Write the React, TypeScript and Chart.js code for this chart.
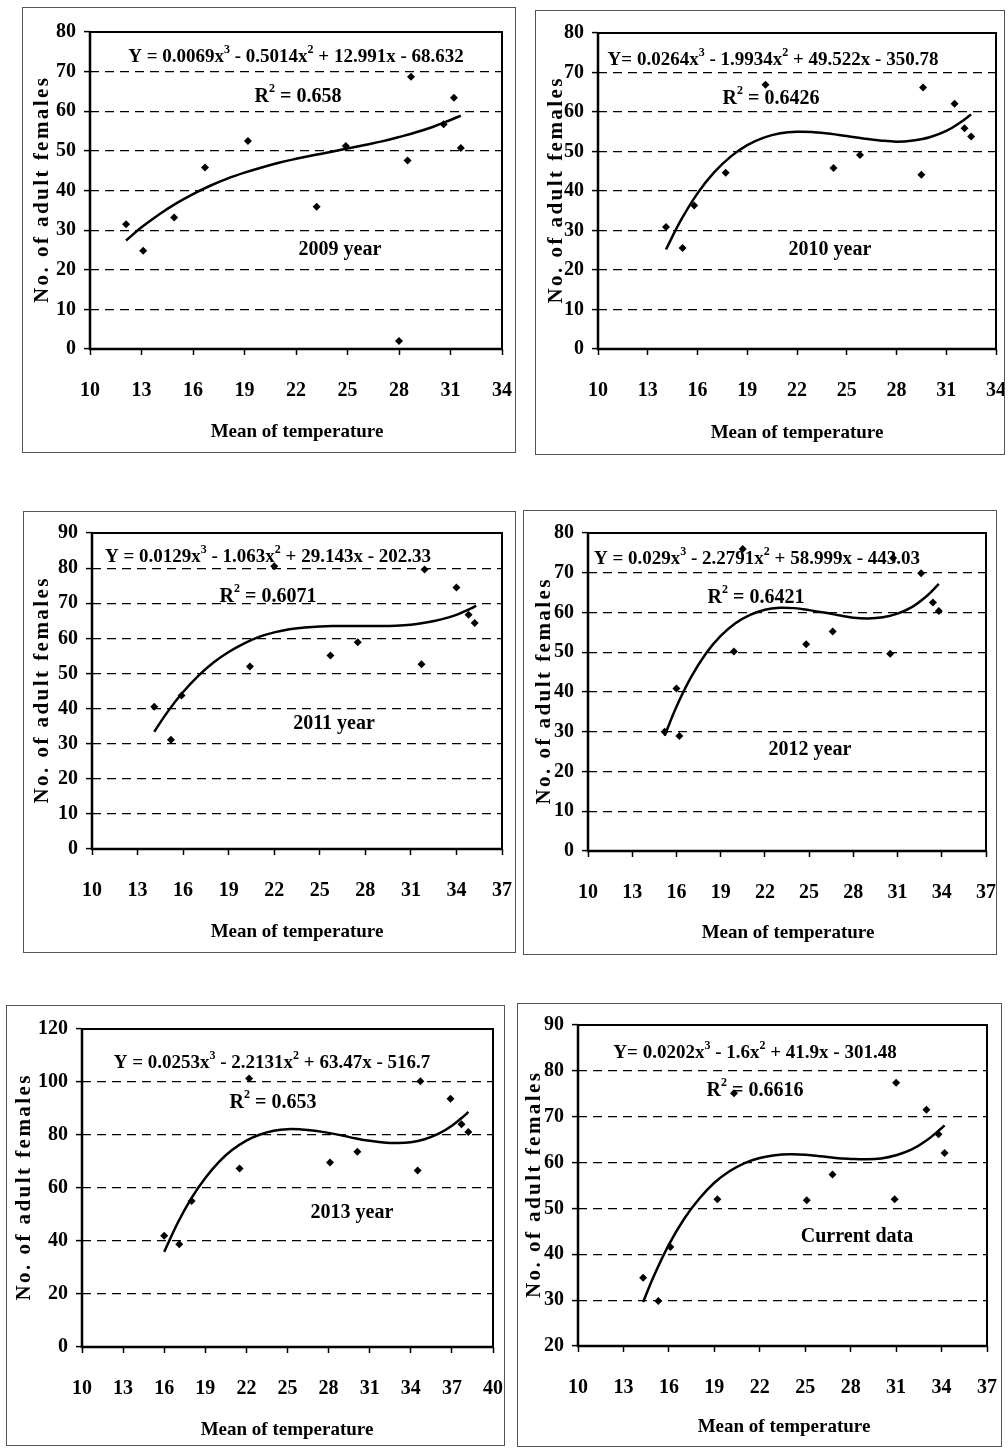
import React, { useEffect, useRef } from "react";
import { Chart, registerables } from "chart.js";
Chart.register(...registerables);

const FONT = '"Liberation Serif", "Times New Roman", serif';

// ---------- 2009 ----------
const temp2009 = [12.1, 13.1, 14.9, 16.7, 19.2, 23.2, 24.9, 28.7, 28.5, 30.6, 31.2, 31.6, 28.0];
const females2009 = [31.5, 24.8, 33.2, 45.8, 52.5, 35.9, 51.2, 68.7, 47.6, 56.7, 63.4, 50.7, 2.0];
const trendTemp2009 = [12.1, 13, 14, 15, 16, 17, 18, 19, 20, 21, 22, 23, 24, 25, 26, 27, 28, 29, 30, 31, 31.6];
const trendFemales2009 = [27.4, 30.7, 33.9, 36.7, 39.1, 41.2, 43.0, 44.5, 45.8, 47.0, 48.0, 48.9, 49.7, 50.6, 51.5, 52.4, 53.5, 54.7, 56.1, 57.8, 58.9];
const xTicks2009 = [10, 13, 16, 19, 22, 25, 28, 31, 34];
const yTicks2009 = [0, 10, 20, 30, 40, 50, 60, 70, 80];

// ---------- 2010 ----------
const temp2010 = [14.1, 15.1, 15.8, 17.7, 20.1, 24.2, 25.8, 29.5, 29.6, 31.5, 32.1, 32.5];
const females2010 = [30.9, 25.6, 36.3, 44.6, 66.9, 45.8, 49.1, 44.1, 66.2, 62.1, 55.9, 53.8];
const trendTemp2010 = [14.1, 15, 16, 17, 18, 19, 20, 21, 22, 23, 24, 25, 26, 27, 28, 29, 30, 31, 32, 32.5];
const trendFemales2010 = [25.2, 32.6, 39.4, 44.7, 48.7, 51.6, 53.5, 54.6, 55.0, 54.9, 54.5, 53.9, 53.3, 52.8, 52.5, 52.8, 53.6, 55.2, 57.8, 59.4];
const xTicks2010 = [10, 13, 16, 19, 22, 25, 28, 31, 34];
const yTicks2010 = [0, 10, 20, 30, 40, 50, 60, 70, 80];

// ---------- 2011 ----------
const temp2011 = [14.1, 15.2, 15.9, 20.4, 22.0, 25.7, 27.5, 31.7, 31.9, 34.0, 34.8, 35.2];
const females2011 = [40.5, 31.1, 43.7, 52.0, 80.5, 55.1, 58.9, 52.6, 79.6, 74.5, 66.7, 64.4];
const trendTemp2011 = [14.1, 15, 16, 17, 18, 19, 20, 21, 22, 23, 24, 25, 26, 27, 28, 29, 30, 31, 32, 33, 34, 35, 35.3];
const trendFemales2011 = [33.4, 39.2, 44.7, 49.3, 53.1, 56.1, 58.5, 60.4, 61.7, 62.6, 63.1, 63.4, 63.5, 63.5, 63.5, 63.5, 63.6, 63.9, 64.5, 65.4, 66.7, 68.6, 69.3];
const xTicks2011 = [10, 13, 16, 19, 22, 25, 28, 31, 34, 37];
const yTicks2011 = [0, 10, 20, 30, 40, 50, 60, 70, 80, 90];

// ---------- 2012 ----------
const temp2012 = [15.2, 16.0, 16.2, 19.9, 24.8, 26.6, 30.5, 32.6, 33.4, 33.8, 20.5, 30.7];
const females2012 = [30.0, 40.9, 28.9, 50.2, 52.0, 55.2, 49.6, 69.9, 62.5, 60.4, 76.0, 73.7];
const trendTemp2012 = [15.2, 16, 17, 18, 19, 20, 21, 22, 23, 24, 25, 26, 27, 28, 29, 30, 31, 32, 33, 33.8];
const trendFemales2012 = [29.0, 36.3, 43.8, 49.7, 54.1, 57.3, 59.4, 60.7, 61.2, 61.1, 60.6, 60.0, 59.3, 58.7, 58.5, 58.8, 59.7, 61.4, 64.2, 67.2];
const xTicks2012 = [10, 13, 16, 19, 22, 25, 28, 31, 34, 37];
const yTicks2012 = [0, 10, 20, 30, 40, 50, 60, 70, 80];

// ---------- 2013 ----------
const temp2013 = [16.0, 17.1, 18.0, 21.5, 22.2, 28.1, 30.1, 34.5, 34.7, 36.9, 37.7, 38.2];
const females2013 = [42.0, 38.8, 55.1, 67.4, 101.3, 69.6, 73.7, 66.6, 100.3, 93.7, 84.1, 81.1];
const trendTemp2013 = [16, 17, 18, 19, 20, 21, 22, 23, 24, 25, 26, 27, 28, 29, 30, 31, 32, 33, 34, 35, 36, 37, 38, 38.2];
const trendFemales2013 = [35.9, 47.0, 56.3, 63.8, 69.9, 74.5, 77.9, 80.2, 81.6, 82.2, 82.1, 81.6, 80.8, 79.8, 78.7, 77.8, 77.2, 77.0, 77.3, 78.4, 80.4, 83.5, 87.7, 88.7];
const xTicks2013 = [10, 13, 16, 19, 22, 25, 28, 31, 34, 37, 40];
const yTicks2013 = [0, 20, 40, 60, 80, 100, 120];

// ---------- Current data ----------
const tempCurrent = [14.3, 15.3, 16.1, 19.2, 25.1, 26.8, 30.9, 31.0, 33.0, 33.8, 34.2, 20.3];
const femalesCurrent = [34.9, 29.8, 41.6, 52.0, 51.8, 57.4, 52.0, 77.4, 71.5, 66.2, 62.1, 75.1];
const trendTempCurrent = [14.3, 15, 16, 17, 18, 19, 20, 21, 22, 23, 24, 25, 26, 27, 28, 29, 30, 31, 32, 33, 34, 34.2];
const trendFemalesCurrent = [29.6, 35.2, 42.1, 47.7, 52.1, 55.6, 58.1, 59.9, 61.0, 61.6, 61.8, 61.7, 61.4, 61.0, 60.8, 60.7, 60.9, 61.6, 62.8, 64.8, 67.5, 68.1];
const xTicksCurrent = [10, 13, 16, 19, 22, 25, 28, 31, 34, 37];
const yTicksCurrent = [20, 30, 40, 50, 60, 70, 80, 90];

// ---------- texts ----------
type Seg = [string, boolean];
const eq2009: Seg[] = [["Y = 0.0069x", false], ["3", true], [" - 0.5014x", false], ["2", true], [" + 12.991x - 68.632", false]];
const eq2010: Seg[] = [["Y= 0.0264x", false], ["3", true], [" - 1.9934x", false], ["2", true], [" + 49.522x - 350.78", false]];
const eq2011: Seg[] = [["Y = 0.0129x", false], ["3", true], [" - 1.063x", false], ["2", true], [" + 29.143x - 202.33", false]];
const eq2012: Seg[] = [["Y = 0.029x", false], ["3", true], [" - 2.2791x", false], ["2", true], [" + 58.999x - 443.03", false]];
const eq2013: Seg[] = [["Y = 0.0253x", false], ["3", true], [" - 2.2131x", false], ["2", true], [" + 63.47x - 516.7", false]];
const eqCurrent: Seg[] = [["Y= 0.0202x", false], ["3", true], [" - 1.6x", false], ["2", true], [" + 41.9x - 301.48", false]];
const r2Values = ["0.658", "0.6426", "0.6071", "0.6421", "0.653", "0.6616"];
const panelLabels = ["2009 year", "2010 year", "2011 year", "2012 year", "2013 year", "Current data"];
const X_TITLE = "Mean of temperature";
const Y_TITLE = "No. of adult females";

interface PanelSpec {
  box: number[];
  plot: number[];
  xTicks: number[];
  yTicks: number[];
  temps: number[];
  counts: number[];
  trendX: number[];
  trendY: number[];
  eq: Seg[];
  eqAt: number[];
  r2: string;
  r2At: number[];
  label: string;
  labelAt: number[];
  yTitleX: number;
  xTitleAt: number[];
}

const panels: PanelSpec[] = [
  { box: [22, 7, 516, 453], plot: [90, 32, 502, 349], xTicks: xTicks2009, yTicks: yTicks2009, temps: temp2009, counts: females2009, trendX: trendTemp2009, trendY: trendFemales2009, eq: eq2009, eqAt: [296, 57], r2: r2Values[0], r2At: [298, 97], label: panelLabels[0], labelAt: [340, 250], yTitleX: 43, xTitleAt: [297, 432] },
  { box: [535, 10, 1005, 455], plot: [598, 33, 996, 349], xTicks: xTicks2010, yTicks: yTicks2010, temps: temp2010, counts: females2010, trendX: trendTemp2010, trendY: trendFemales2010, eq: eq2010, eqAt: [773, 60], r2: r2Values[1], r2At: [771, 99], label: panelLabels[1], labelAt: [830, 250], yTitleX: 557, xTitleAt: [797, 433] },
  { box: [23, 511, 516, 953], plot: [92, 533, 502, 849], xTicks: xTicks2011, yTicks: yTicks2011, temps: temp2011, counts: females2011, trendX: trendTemp2011, trendY: trendFemales2011, eq: eq2011, eqAt: [268, 557], r2: r2Values[2], r2At: [268, 597], label: panelLabels[2], labelAt: [334, 724], yTitleX: 43, xTitleAt: [297, 932] },
  { box: [523, 510, 997, 955], plot: [588, 533, 986, 851], xTicks: xTicks2012, yTicks: yTicks2012, temps: temp2012, counts: females2012, trendX: trendTemp2012, trendY: trendFemales2012, eq: eq2012, eqAt: [757, 559], r2: r2Values[3], r2At: [756, 598], label: panelLabels[3], labelAt: [810, 750], yTitleX: 545, xTitleAt: [788, 933] },
  { box: [6, 1005, 505, 1446], plot: [82, 1029, 493, 1347], xTicks: xTicks2013, yTicks: yTicks2013, temps: temp2013, counts: females2013, trendX: trendTemp2013, trendY: trendFemales2013, eq: eq2013, eqAt: [272, 1063], r2: r2Values[4], r2At: [273, 1103], label: panelLabels[4], labelAt: [352, 1213], yTitleX: 25, xTitleAt: [287, 1430] },
  { box: [517, 1003, 1002, 1447], plot: [578, 1025, 987, 1346], xTicks: xTicksCurrent, yTicks: yTicksCurrent, temps: tempCurrent, counts: femalesCurrent, trendX: trendTempCurrent, trendY: trendFemalesCurrent, eq: eqCurrent, eqAt: [755, 1053], r2: r2Values[5], r2At: [755, 1091], label: panelLabels[5], labelAt: [857, 1237], yTitleX: 535, xTitleAt: [784, 1427] },
];

const SIZE = 19;

function drawSegs(ctx: CanvasRenderingContext2D, segs: Seg[], cx: number, cy: number, size: number) {
  const supSize = Math.round(size * 0.62);
  let total = 0;
  const widths = segs.map(([t, sup]) => {
    ctx.font = `bold ${sup ? supSize : size}px ${FONT}`;
    const w = ctx.measureText(t).width;
    total += w;
    return w;
  });
  let x = cx - total / 2;
  ctx.textAlign = "left";
  ctx.textBaseline = "middle";
  ctx.fillStyle = "#000";
  segs.forEach(([t, sup], i) => {
    ctx.font = `bold ${sup ? supSize : size}px ${FONT}`;
    ctx.fillText(t, x, sup ? cy - size * 0.38 : cy);
    x += widths[i];
  });
}

function Panel({ spec }: { spec: PanelSpec }) {
  const ref = useRef<HTMLCanvasElement>(null);
  const [bl, bt, br, bb] = spec.box;
  const W = br - bl - 2;
  const H = bb - bt - 2;
  const ox = bl + 1;
  const oy = bt + 1;

  useEffect(() => {
    const canvas = ref.current;
    if (!canvas) return;
    const [pl, pt, pr, pb] = spec.plot;
    const xMin = spec.xTicks[0];
    const xMax = spec.xTicks[spec.xTicks.length - 1];
    const yMin = spec.yTicks[0];
    const yMax = spec.yTicks[spec.yTicks.length - 1];
    const tickFont = { family: FONT, size: SIZE + 1, weight: "bold" as const };

    const annot = {
      id: "annot" + spec.label.replace(/\s/g, ""),
      beforeDatasetsDraw(chart: any) {
        const ctx = chart.ctx as CanvasRenderingContext2D;
        ctx.save();
        drawSegs(ctx, spec.eq, spec.eqAt[0] - ox, spec.eqAt[1] - oy, SIZE);
        drawSegs(ctx, [["R", false], ["2", true], [" = " + spec.r2, false]], spec.r2At[0] - ox, spec.r2At[1] - oy, SIZE + 1);
        drawSegs(ctx, [[spec.label, false]], spec.labelAt[0] - ox, spec.labelAt[1] - oy, SIZE + 1);
        ctx.restore();
      },
      afterDatasetsDraw(chart: any) {
        const ctx = chart.ctx as CanvasRenderingContext2D;
        const a = chart.chartArea;
        ctx.save();
        ctx.strokeStyle = "#000";
        ctx.lineWidth = 2;
        ctx.strokeRect(a.left, a.top, a.right - a.left, a.bottom - a.top);
        ctx.lineWidth = 2.5;
        ctx.beginPath();
        ctx.moveTo(a.left, a.top);
        ctx.lineTo(a.left, a.bottom);
        ctx.lineTo(a.right, a.bottom);
        ctx.stroke();
        ctx.restore();
      },
      afterDraw(chart: any) {
        const ctx = chart.ctx as CanvasRenderingContext2D;
        const a = chart.chartArea;
        ctx.save();
        ctx.fillStyle = "#000";
        ctx.font = `bold ${SIZE}px ${FONT}`;
        ctx.textAlign = "center";
        ctx.textBaseline = "middle";
        ctx.fillText(X_TITLE, spec.xTitleAt[0] - ox, spec.xTitleAt[1] - oy);
        // y title, letter-spaced to its span
        ctx.font = `bold ${SIZE + 2}px ${FONT}`;
        const w0 = ctx.measureText(Y_TITLE).width;
        const spacing = Math.max(0, (225 - w0) / (Y_TITLE.length - 1));
        (ctx as any).letterSpacing = spacing.toFixed(2) + "px";
        ctx.translate(spec.yTitleX - ox, (a.top + a.bottom) / 2);
        ctx.rotate(-Math.PI / 2);
        ctx.fillText(Y_TITLE, spacing / 2, 0);
        ctx.restore();
      },
    };

    const chart = new Chart(canvas, {
      type: "scatter",
      data: {
        datasets: [
          {
            type: "line",
            data: spec.trendX.map((x, i) => ({ x, y: spec.trendY[i] })),
            borderColor: "#000",
            borderWidth: 2.5,
            pointRadius: 0,
            tension: 0.4,
            fill: false,
            order: 1,
          } as any,
          {
            type: "scatter",
            data: spec.temps.map((x, i) => ({ x, y: spec.counts[i] })),
            pointStyle: "rectRot",
            pointRadius: 4,
            backgroundColor: "#000",
            borderColor: "#000",
            borderWidth: 0,
            order: 0,
          } as any,
        ],
      },
      options: {
        responsive: false,
        animation: false,
        devicePixelRatio: 1,
        layout: { padding: { top: pt - oy, right: W - (pr - ox), left: 0, bottom: 0 } },
        plugins: { legend: { display: false }, tooltip: { enabled: false } },
        scales: {
          x: {
            type: "linear",
            min: xMin,
            max: xMax,
            afterBuildTicks: (s: any) => {
              s.ticks = spec.xTicks.map((v) => ({ value: v }));
            },
            afterFit: (s: any) => {
              s.height = H - (pb - oy);
              s.paddingLeft = 0;
              s.paddingRight = 0;
            },
            grid: { display: true, drawOnChartArea: false, drawTicks: true, tickLength: 6, tickColor: "#000", tickWidth: 1.5, color: "#000" },
            border: { display: false },
            ticks: { color: "#000", font: tickFont, padding: 24, maxRotation: 0, autoSkip: false },
          },
          y: {
            type: "linear",
            min: yMin,
            max: yMax,
            afterBuildTicks: (s: any) => {
              s.ticks = spec.yTicks.map((v) => ({ value: v }));
            },
            afterFit: (s: any) => {
              s.width = pl - ox;
              s.paddingTop = 0;
              s.paddingBottom = 0;
            },
            grid: {
              display: true,
              drawOnChartArea: true,
              drawTicks: true,
              tickLength: 6,
              tickColor: "#000",
              tickWidth: 1.5,
              lineWidth: 1.2,
              color: (c: any) => (c.tick && (c.tick.value === yMin || c.tick.value === yMax) ? "rgba(0,0,0,0)" : "#000"),
            },
            border: { display: false, dash: [9, 6] },
            ticks: { color: "#000", font: tickFont, padding: 8, autoSkip: false },
          },
        },
      } as any,
      plugins: [annot],
    });
    return () => chart.destroy();
  }, [spec]);

  return (
    <div
      style={{
        position: "absolute",
        left: bl,
        top: bt,
        width: br - bl,
        height: bb - bt,
        boxSizing: "border-box",
        border: "1px solid #555",
        background: "#fff",
      }}
    >
      <canvas ref={ref} width={W} height={H} style={{ display: "block", width: W, height: H }} />
    </div>
  );
}

export default function App() {
  return (
    <div style={{ position: "absolute", left: 0, top: 0, width: 1008, height: 1449, background: "#fff", overflow: "hidden" }}>
      {panels.map((p, i) => (
        <Panel key={i} spec={p} />
      ))}
    </div>
  );
}
